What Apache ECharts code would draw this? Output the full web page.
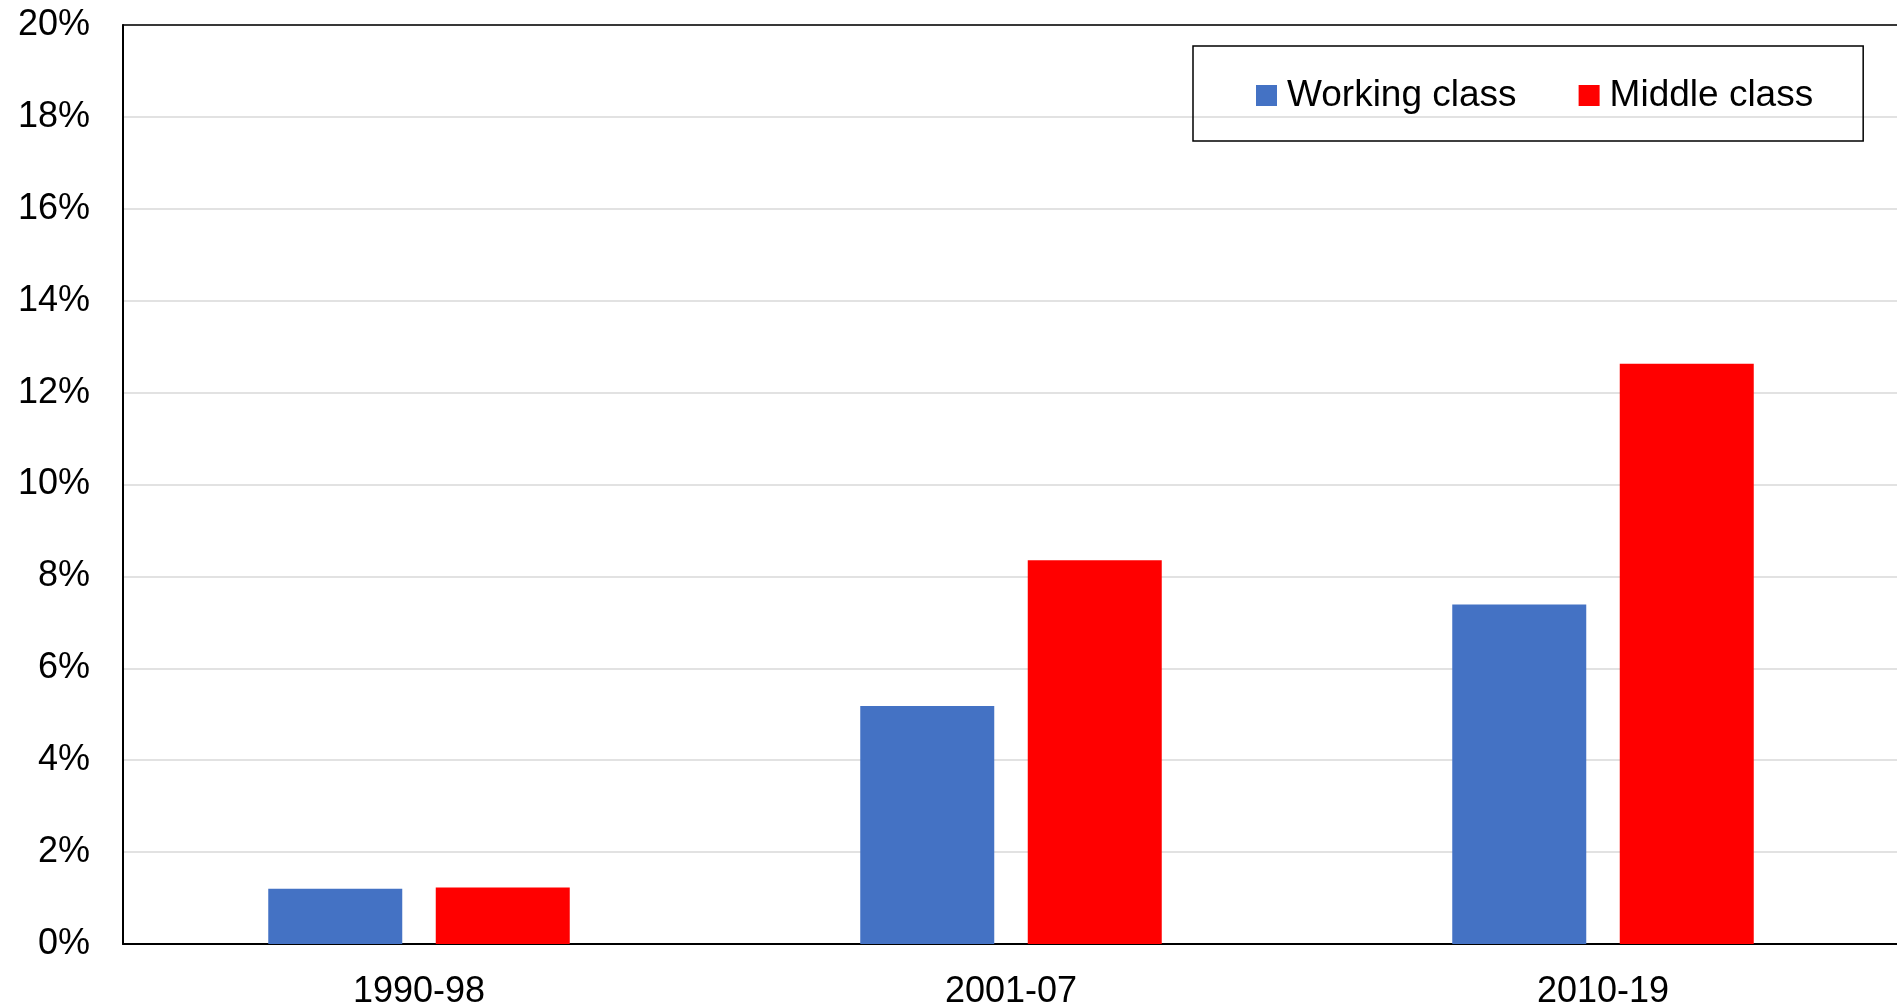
<!DOCTYPE html>
<html>
<head>
<meta charset="utf-8">
<script src="https://cdn.jsdelivr.net/npm/echarts@6/dist/echarts.min.js"></script>
<style>
html,body{margin:0;padding:0;background:#fff;}
#chart{width:1897px;height:1006px;}
</style>
</head>
<body>
<div id="chart"></div>
<script>
const categories = ['1990-98', '2001-07', '2010-19'];
const workingClass = [1.20, 5.18, 7.39];
const middleClass = [1.23, 8.35, 12.63];
const seriesNames = ['Working class', 'Middle class'];
const FONT = '"Liberation Sans", Arial, sans-serif';

const chart = echarts.init(document.getElementById('chart'));
chart.setOption({
  animation: false,
  backgroundColor: '#ffffff',
  textStyle: { fontFamily: FONT },
  grid: { left: 123, top: 25, width: 1776, bottom: 62, containLabel: false, outerBoundsMode: 'none' },
  legend: {
    data: seriesNames,
    left: 1193,
    top: 46,
    orient: 'horizontal',
    itemWidth: 21,
    itemHeight: 21,
    itemGap: 62,
    icon: 'rect',
    padding: [30, 50, 26, 63],
    borderColor: '#000',
    borderWidth: 1.5,
    textStyle: { fontSize: 37, color: '#000', fontFamily: FONT, lineHeight: 37, padding: [2, 0, 0, 5] }
  },
  xAxis: [{
    type: 'category',
    data: categories,
    axisLine: { show: true, lineStyle: { color: '#000', width: 2 } },
    axisTick: { show: false },
    axisLabel: { fontSize: 36, color: '#000', margin: 30, fontFamily: FONT },
    splitLine: { show: false }
  }, {
    type: 'category',
    data: categories,
    position: 'top',
    axisLine: { show: true, lineStyle: { color: '#000', width: 1.5 } },
    axisTick: { show: false },
    axisLabel: { show: false },
    splitLine: { show: false }
  }],
  yAxis: {
    type: 'value',
    min: 0,
    max: 20,
    interval: 2,
    axisLine: { show: true, lineStyle: { color: '#000', width: 2 } },
    axisTick: { show: false },
    axisLabel: { fontSize: 36, color: '#000', margin: 33, formatter: '{value}%', fontFamily: FONT },
    splitLine: { show: true, lineStyle: { color: '#d9d9d9', width: 1.5 } }
  },
  series: [{
    name: seriesNames[0],
    type: 'bar',
    data: workingClass,
    barWidth: 134,
    barGap: '25%',
    itemStyle: { color: '#4472C4' }
  }, {
    name: seriesNames[1],
    type: 'bar',
    data: middleClass,
    barWidth: 134,
    barGap: '25%',
    itemStyle: { color: '#FF0000' }
  }]
});
</script>
</body>
</html>
